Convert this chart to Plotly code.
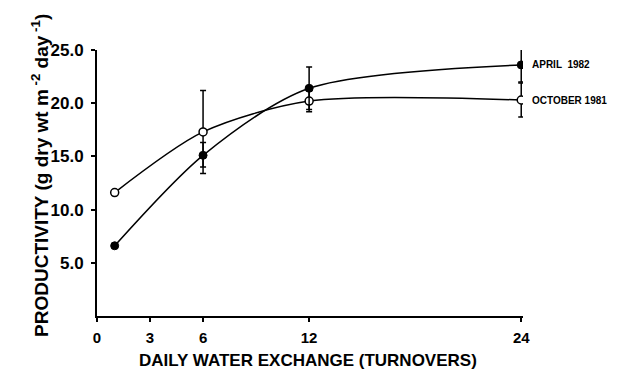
import plotly.graph_objects as go

# Data
exchange = [1, 6, 12, 24]
april_1982 = [6.6, 15.1, 21.4, 23.6]
april_err_plus = [0, 1.2, 2.0, 1.7]
april_err_minus = [0, 1.1, 2.0, 1.6]
october_1981 = [11.6, 17.3, 20.2, 20.3]
october_err_plus = [0, 3.9, 1.0, 1.6]
october_err_minus = [0, 3.9, 1.0, 1.6]

x_ticks = [0, 3, 6, 12, 24]
y_ticks = [5, 10, 15, 20, 25]
y_tick_text = ["5.0", "10.0", "15.0", "20.0", "25.0"]

FONT = "Liberation Sans"

fig = go.Figure()
fig.add_trace(go.Scatter(
    x=exchange, y=october_1981, mode="lines+markers", name="OCTOBER 1981",
    line=dict(color="black", width=1.5, shape="spline", smoothing=0.8),
    marker=dict(symbol="circle", size=8, color="white", line=dict(color="black", width=1.5)),
    error_y=dict(type="data", array=october_err_plus, arrayminus=october_err_minus,
                 color="black", thickness=1.5, width=3),
))
fig.add_trace(go.Scatter(
    x=exchange, y=april_1982, mode="lines+markers", name="APRIL 1982",
    line=dict(color="black", width=1.5, shape="spline", smoothing=0.8),
    marker=dict(symbol="circle", size=8, color="black", line=dict(color="black", width=1)),
    error_y=dict(type="data", array=april_err_plus, arrayminus=april_err_minus,
                 color="black", thickness=1.5, width=3),
))

fig.update_layout(
    width=620, height=361,
    margin=dict(l=89, r=105, t=42, b=53),
    paper_bgcolor="white", plot_bgcolor="white",
    showlegend=False,
    font=dict(family=FONT, color="black"),
    xaxis=dict(range=[0, 24.1], tickvals=x_ticks, ticktext=[str(v) for v in x_ticks],
               showgrid=False, zeroline=False, showline=True, linecolor="black", linewidth=2,
               ticks="outside", ticklen=4, tickwidth=1.5, tickcolor="black",
               ticklabelstandoff=3,
               tickfont=dict(family=FONT, size=15, weight="bold", color="black")),
    yaxis=dict(range=[0, 25], tickvals=y_ticks, ticktext=y_tick_text,
               showgrid=False, zeroline=False, showline=True, linecolor="black", linewidth=2,
               ticks="outside", ticklen=4, tickwidth=1.5, tickcolor="black",
               ticklabelstandoff=4,
               tickfont=dict(family=FONT, size=17, weight="bold", color="black")),
    annotations=[
        dict(text="<b>APRIL  1982</b>", x=24, y=23.6, xref="x", yref="y", xanchor="left",
             xshift=9, showarrow=False, font=dict(family=FONT, size=10, color="black")),
        dict(text="<b>OCTOBER 1981</b>", x=24, y=20.3, xref="x", yref="y", xanchor="left",
             xshift=9, showarrow=False, font=dict(family=FONT, size=10, color="black")),
        dict(text="<b>PRODUCTIVITY (g dry wt m<sup> -2</sup> day<sup> -1</sup>)</b>",
             x=-0.134, y=0.53, xref="paper", yref="paper", textangle=-90,
             xanchor="center", yanchor="middle",
             showarrow=False, font=dict(family=FONT, size=19, color="black")),
        dict(text="<b>DAILY WATER EXCHANGE (TURNOVERS)</b>",
             x=0.495, y=-0.169, xref="paper", yref="paper",
             xanchor="center", yanchor="middle",
             showarrow=False, font=dict(family=FONT, size=17, color="black")),
    ],
)

fig.write_html("out.html")
